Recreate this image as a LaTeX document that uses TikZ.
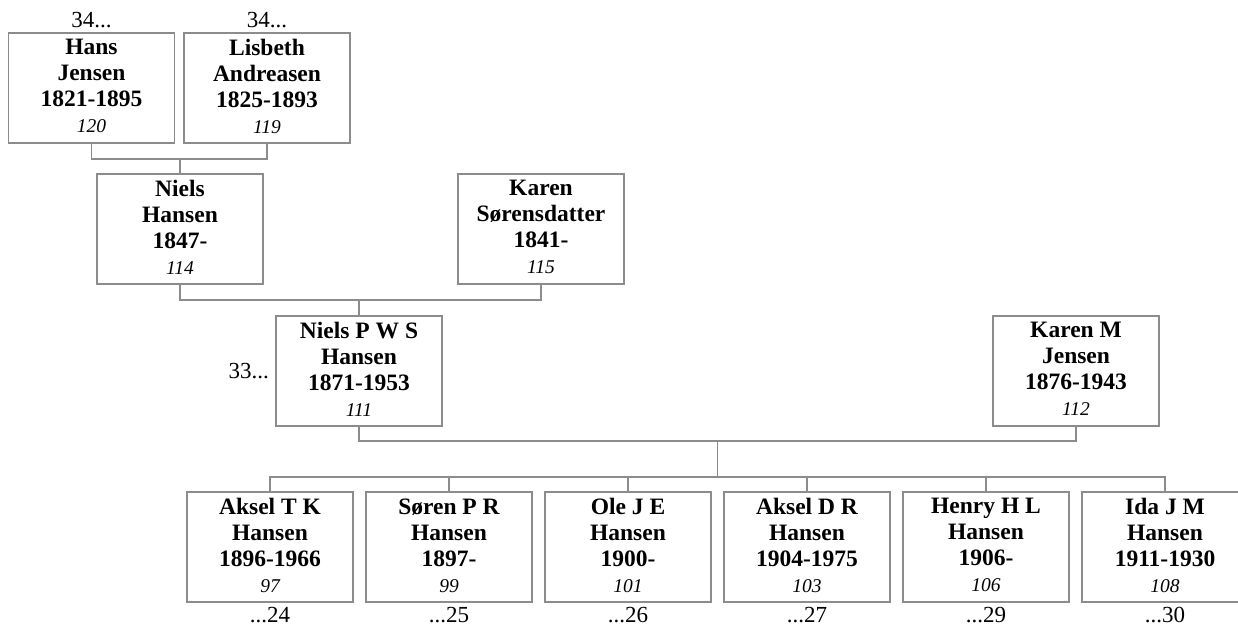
\documentclass[tikz,border=0pt]{standalone}
\usepackage{fontspec}
\setmainfont{Liberation Serif}
\begin{document}
\begin{tikzpicture}[x=1pt,y=-1pt,
  person/.style={draw=linegray, line width=1.3pt, fill=white, minimum width=166pt, minimum height=110pt,
    inner sep=0pt, align=center, font=\fontsize{23.5}{26}\selectfont\bfseries},
  conn/.style={draw=linegray, line width=1.3pt},
  ref/.style={font=\fontsize{23}{26}\selectfont, inner sep=0pt},
]
\definecolor{linegray}{HTML}{8C8C8C}
\newcommand{\idn}[1]{{\fontsize{19.5}{26}\selectfont\mdseries\itshape #1}\rule[-3.5pt]{0pt}{0pt}}
\useasboundingbox (0,0) rectangle (1238,626);

% generation 1
\node[person] (hans) at (91.5,88) {Hans\\Jensen\\1821-1895\\\idn{120}};
\node[person] (lisbeth) at (267,88) {Lisbeth\\Andreasen\\1825-1893\\\idn{119}};
\node[ref, anchor=base] (r34a) at (91.5,28) {34...};
\node[ref, anchor=base] (r34b) at (267,28) {34...};

% generation 2
\node[person] (niels) at (180,229) {Niels\\Hansen\\1847-\\\idn{114}};
\node[person] (karen) at (541,229) {Karen\\Sørensdatter\\1841-\\\idn{115}};

% generation 3
\node[person] (npws) at (359,371) {Niels P W S\\Hansen\\1871-1953\\\idn{111}};
\node[person] (karenm) at (1076,371) {Karen M\\Jensen\\1876-1943\\\idn{112}};
\node[ref, anchor=base east] (r33) at (269,378) {33...};

% children
\node[person] (c1) at (270,547) {Aksel T K\\Hansen\\1896-1966\\\idn{97}};
\node[person] (c2) at (449,547) {Søren P R\\Hansen\\1897-\\\idn{99}};
\node[person] (c3) at (628,547) {Ole J E\\Hansen\\1900-\\\idn{101}};
\node[person] (c4) at (807,547) {Aksel D R\\Hansen\\1904-1975\\\idn{103}};
\node[person] (c5) at (986,547) {Henry H L\\Hansen\\1906-\\\idn{106}};
\node[person] (c6) at (1165,547) {Ida J M\\Hansen\\1911-1930\\\idn{108}};
\node[ref, anchor=base] (d1) at (270,622) {...24};
\node[ref, anchor=base] (d2) at (449,622) {...25};
\node[ref, anchor=base] (d3) at (628,622) {...26};
\node[ref, anchor=base] (d4) at (807,622) {...27};
\node[ref, anchor=base] (d5) at (986,622) {...29};
\node[ref, anchor=base] (d6) at (1165,622) {...30};

% junctions
\coordinate (j1) at (180,159);
\coordinate (j2) at (359,300);
\coordinate (j3) at (717.5,441);
\coordinate (j4) at (717.5,477);

\draw[conn] (hans.south) |- (j1) -| (lisbeth.south);
\draw[conn] (j1) -- (niels.north);
\draw[conn] (niels.south) |- (j2) -| (karen.south);
\draw[conn] (j2) -- (npws.north);
\draw[conn] (npws.south) |- (j3) -| (karenm.south);
\draw[conn] (j3) -- (j4);
\draw[conn] (c1.north) |- (j4) -| (c6.north);
\foreach \c in {c2,c3,c4,c5} \draw[conn] (\c.north) -- (\c.north |- j4);
\end{tikzpicture}
\end{document}
